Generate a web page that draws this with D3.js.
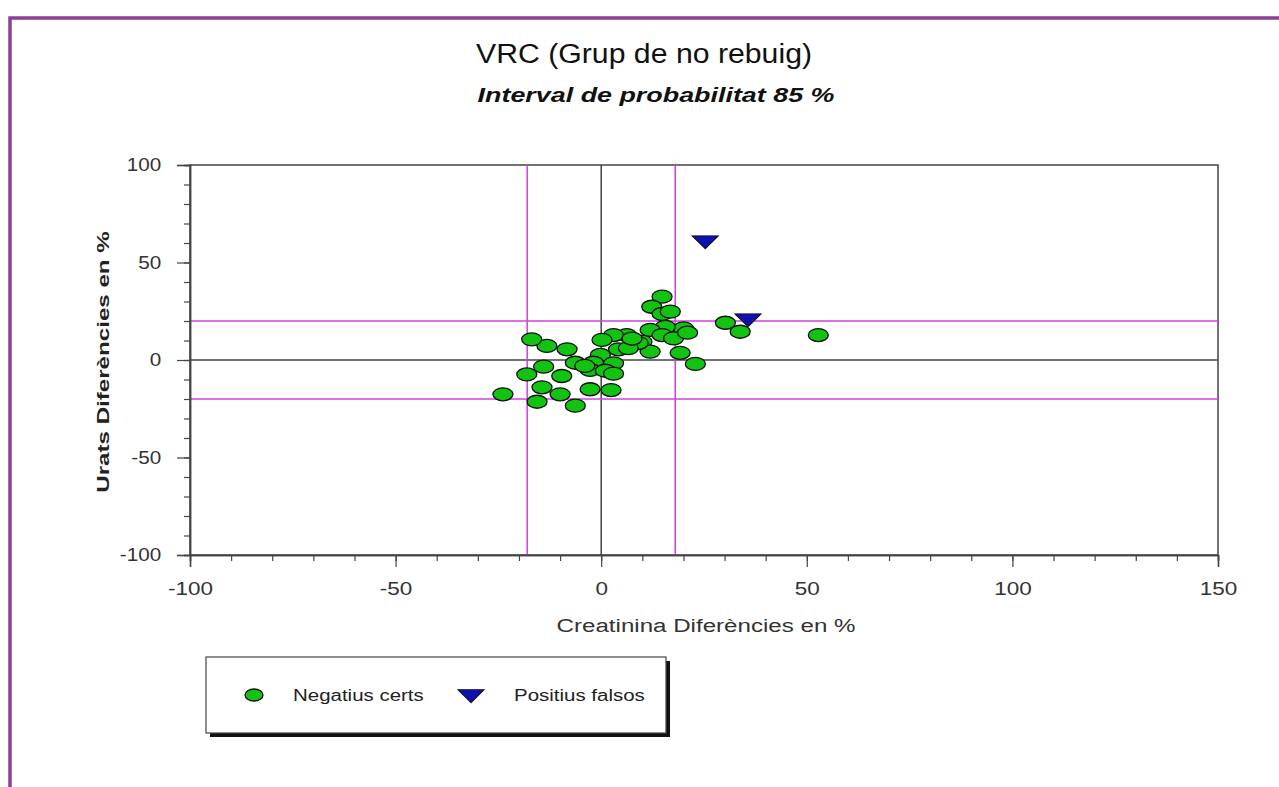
<!DOCTYPE html>
<html>
<head>
<meta charset="utf-8">
<script src="https://cdn.jsdelivr.net/npm/d3@7"></script>
<style>
  body { margin: 0; background: #fff; }
  text { font-family: "Liberation Sans", Arial, sans-serif; }
</style>
</head>
<body>
<svg id="chart" width="1279" height="787"></svg>
<script>
// negatius certs (creatinina %, urats %)
var negX = [14.8, 12.3, 14.8, 16.8, 30.2, 33.8, 52.8, 20.0, 15.6, 11.9, 14.8, 17.6, 9.9, 6.2, 3.0, 0.2,
            4.2, 11.9, 19.2, 22.9, -0.2, 3.0, -1.9, -6.3, -2.7, 1.0, 3.0, -8.3, -13.2, -16.9, -14.0,
            -18.1, -9.6, -14.4, -10.0, -15.6, -6.3, -2.7, 2.4, -23.9, 9.0, 6.6, 21.0, 7.5, -4.0];
var negY = [32.5, 27.3, 23.6, 24.8, 19.1, 14.5, 12.8, 16.2, 17.0, 15.4, 12.8, 11.1, 9.4, 12.8, 12.8, 10.3,
            5.5, 4.3, 3.7, -2.0, 2.6, -1.7, -1.4, -1.4, -5.1, -5.5, -7.0, 5.5, 7.2, 10.6, -3.4,
            -7.4, -8.2, -14.0, -17.6, -21.4, -23.4, -15.0, -15.4, -17.6, 8.7, 6.1, 14.0, 11.0, -3.0];
// positius falsos
var posX = [25.3, 35.7];
var posY = [61.5, 21.5];

var xDomain = [-100, 150], yDomain = [-100, 100];
var xTicks = [-100, -50, 0, 50, 100, 150];
var yTicks = [-100, -50, 0, 50, 100];
var limitX = [-18, 18], limitY = [-20, 20];

(function() {
var svg = d3.select("#chart");
var plot = { left: 190, right: 1218, top: 165, bottom: 555 };

var x = d3.scaleLinear().domain(xDomain).range([plot.left, plot.right]);
var y = d3.scaleLinear().domain(yDomain).range([plot.bottom, plot.top]);

// stretched text helper (reference glyphs are wider than Arial)
function label(g, tx, ty, str, size, sx, anchor) {
  return g.append("text").attr("x", 0).attr("y", 0)
    .attr("text-anchor", anchor || "middle").attr("font-size", size)
    .attr("transform", "translate(" + tx + "," + ty + ") scale(" + sx + ",1)")
    .text(str);
}

// purple frame
svg.append("path")
  .attr("d", "M10,787 L10,18 L1279,18")
  .attr("fill", "none").attr("stroke", "#8e3f94").attr("stroke-width", 3.5);

label(svg, 644, 63, "VRC (Grup de no rebuig)", 27, 1.12).attr("fill", "#111");
label(svg, 656, 102, "Interval de probabilitat 85 %", 21, 1.28)
  .attr("font-weight", "bold").attr("font-style", "italic").attr("fill", "#111");

// plot frame
svg.append("rect").attr("x", plot.left).attr("y", plot.top)
  .attr("width", plot.right - plot.left).attr("height", plot.bottom - plot.top)
  .attr("fill", "none").attr("stroke", "#444").attr("stroke-width", 1.5);

// zero lines
svg.append("line").attr("x1", x(0)).attr("x2", x(0)).attr("y1", plot.top).attr("y2", plot.bottom)
  .attr("stroke", "#444").attr("stroke-width", 1.5);
svg.append("line").attr("x1", plot.left).attr("x2", plot.right).attr("y1", y(0)).attr("y2", y(0))
  .attr("stroke", "#444").attr("stroke-width", 1.5);

// limit lines
limitX.forEach(function(v) {
  svg.append("line").attr("x1", x(v)).attr("x2", x(v)).attr("y1", plot.top).attr("y2", plot.bottom)
    .attr("stroke", "#d23fe0").attr("stroke-width", 1.5);
});
limitY.forEach(function(v) {
  svg.append("line").attr("x1", plot.left).attr("x2", plot.right).attr("y1", y(v)).attr("y2", y(v))
    .attr("stroke", "#d23fe0").attr("stroke-width", 1.5);
});

// axes: minor ticks every 10, major every 50
var fmt = function(d) { return String(d); };
var xAxisMinor = d3.axisBottom(x).tickValues(d3.range(-100, 151, 10)).tickSize(6).tickFormat("");
var xAxis = d3.axisBottom(x).tickValues(xTicks).tickSize(12).tickPadding(15).tickFormat(fmt);
var yAxisMinor = d3.axisLeft(y).tickValues(d3.range(-100, 101, 10)).tickSize(6).tickFormat("");
var yAxis = d3.axisLeft(y).tickValues(yTicks).tickSize(13).tickPadding(12).tickFormat(fmt);

function styleAxis(g) {
  g.select(".domain").attr("stroke", "#444").attr("stroke-width", 1.5);
  g.selectAll(".tick line").attr("stroke", "#444").attr("stroke-width", 1.2);
  g.selectAll(".tick text").attr("font-size", 18).attr("fill", "#333")
    .attr("font-family", "Liberation Sans, Arial, sans-serif");
}

svg.append("g").attr("transform", "translate(0," + plot.bottom + ")").call(xAxisMinor).call(styleAxis);
svg.append("g").attr("transform", "translate(0," + plot.bottom + ")").call(xAxis).call(styleAxis)
  .selectAll(".tick text").attr("transform", "scale(1.25,1)");
svg.append("g").attr("transform", "translate(" + plot.left + ",0)").call(yAxisMinor).call(styleAxis);
svg.append("g").attr("transform", "translate(" + plot.left + ",0)").call(yAxis).call(styleAxis)
  .selectAll(".tick text").attr("transform", "scale(1.15,1)");

label(svg, 706, 632, "Creatinina Diferències en %", 19, 1.27).attr("fill", "#333");
svg.append("text").attr("text-anchor", "middle").attr("font-size", 17).attr("font-weight", "bold")
  .attr("fill", "#222")
  .attr("transform", "translate(109,362) rotate(-90) scale(1.42,1)")
  .text("Urats Diferències en %");

// points
var tri = d3.symbol().type(d3.symbolTriangle).size(150);
function drawEllipse(sel, cx, cy, rx, ry) {
  sel.append("ellipse").attr("cx", cx).attr("cy", cy).attr("rx", rx).attr("ry", ry)
    .attr("fill", "#12c312").attr("stroke", "#111").attr("stroke-width", 1.3);
}
function drawTriangle(sel, cx, cy) {
  sel.append("path").attr("d", tri)
    .attr("transform", "translate(" + cx + "," + cy + ") rotate(180) scale(1.4,0.8)")
    .attr("fill", "#1010b0").attr("stroke", "#111").attr("stroke-width", 1);
}

var pts = svg.append("g");
negX.forEach(function(v, i) { drawEllipse(pts, x(v), y(negY[i]), 10, 6.5); });
posX.forEach(function(v, i) { drawTriangle(pts, x(v), y(posY[i])); });

// legend
var lg = svg.append("g");
lg.append("rect").attr("x", 210).attr("y", 661).attr("width", 460).attr("height", 76).attr("fill", "#111");
lg.append("rect").attr("x", 206).attr("y", 657).attr("width", 460).attr("height", 76)
  .attr("fill", "#fff").attr("stroke", "#444").attr("stroke-width", 1.2);
drawEllipse(lg, 254, 695, 9, 6);
drawTriangle(lg, 471, 694);
label(lg, 293, 701, "Negatius certs", 16, 1.28, "start").attr("fill", "#222");
label(lg, 514, 701, "Positius falsos", 16, 1.28, "start").attr("fill", "#222");
})();
</script>
</body>
</html>
